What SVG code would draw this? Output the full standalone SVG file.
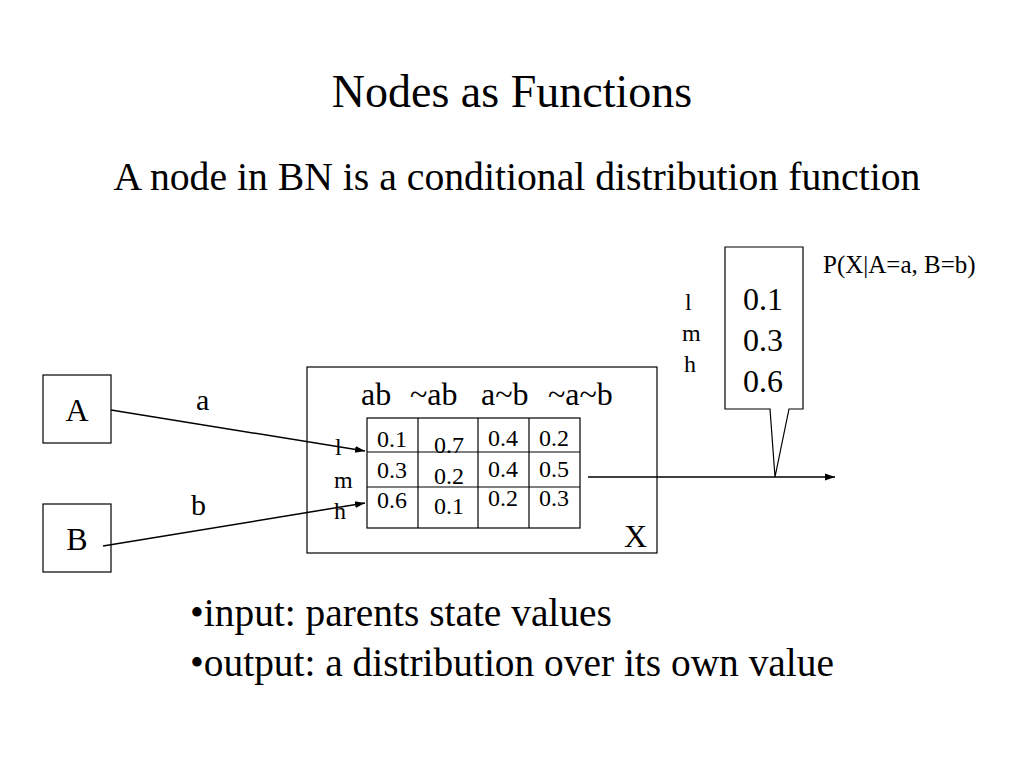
<svg xmlns="http://www.w3.org/2000/svg" width="1024" height="768" viewBox="0 0 1024 768">
<defs>
<style>
text{font-family:"Liberation Serif","Times New Roman",serif;fill:#000}
.box{fill:#fff;stroke:#000;stroke-width:1.2}
.ln{stroke:#000;stroke-width:1.5;fill:none}
.grid{stroke:#000;stroke-width:1.2;fill:none}
.c{font-size:24px}
.h{font-size:32px}
</style>
<marker id="arr" viewBox="0 0 10 10" refX="10" refY="5" markerWidth="10" markerHeight="10" orient="auto" markerUnits="userSpaceOnUse"><path d="M0,1.5 L10,5 L0,8.5 z" fill="#000"/></marker>
</defs>
<rect width="1024" height="768" fill="#fff"/>
<text x="512" y="107" font-size="46" text-anchor="middle">Nodes as Functions</text>
<text x="517" y="190" font-size="39.7" text-anchor="middle">A node in BN is a conditional distribution function</text>

<g id="nodeA"><rect class="box" x="43" y="375" width="68" height="68"/><text x="77" y="421" font-size="32" text-anchor="middle">A</text></g>
<g id="nodeB"><rect class="box" x="43" y="504" width="68" height="68"/><text x="77" y="550" font-size="32" text-anchor="middle">B</text></g>

<g id="nodeX">
<rect class="box" x="307" y="367" width="350" height="186"/>
<text class="h" x="361" y="405">ab</text>
<text class="h" x="410" y="405">~ab</text>
<text class="h" x="481" y="405">a~b</text>
<text class="h" x="548" y="405">~a~b</text>
<rect class="grid" x="367" y="418" width="213" height="110"/>
<line class="grid" x1="418" y1="418" x2="418" y2="528"/>
<line class="grid" x1="478" y1="418" x2="478" y2="528"/>
<line class="grid" x1="529" y1="418" x2="529" y2="528"/>
<line class="grid" x1="367" y1="452" x2="580" y2="452"/>
<line class="grid" x1="367" y1="487" x2="580" y2="487"/>
<text class="c" x="377" y="447">0.1</text>
<text class="c" x="377" y="478">0.3</text>
<text class="c" x="377" y="508">0.6</text>
<text class="c" x="434" y="453">0.7</text>
<text class="c" x="434" y="484">0.2</text>
<text class="c" x="434" y="514">0.1</text>
<text class="c" x="488" y="446">0.4</text>
<text class="c" x="488" y="477">0.4</text>
<text class="c" x="488" y="506">0.2</text>
<text class="c" x="539" y="446">0.2</text>
<text class="c" x="539" y="477">0.5</text>
<text class="c" x="539" y="506">0.3</text>
<text class="c" x="335" y="455">l</text>
<text class="c" x="334" y="488">m</text>
<text class="c" x="334" y="519">h</text>
<text x="624" y="547" font-size="32">X</text>
</g>

<g id="callout">
<path class="box" d="M725,247 H803 V409 H789 L775,477 L770,409 H725 Z"/>
<text x="743" y="310" font-size="32">0.1</text>
<text x="743" y="351" font-size="32">0.3</text>
<text x="743" y="392" font-size="32">0.6</text>
<text class="c" x="685" y="310">l</text>
<text class="c" x="682" y="341">m</text>
<text class="c" x="684" y="372">h</text>
<text x="823" y="273" font-size="25">P(X|A=a, B=b)</text>
</g>

<g id="connectors">
<line class="ln" x1="111" y1="410" x2="365" y2="451" marker-end="url(#arr)"/>
<line class="ln" x1="103" y1="546" x2="365" y2="503" marker-end="url(#arr)"/>
<line class="ln" x1="588" y1="477" x2="835" y2="477" marker-end="url(#arr)"/>
<text x="196" y="410" font-size="30">a</text>
<text x="191" y="515" font-size="30">b</text>
</g>

<text x="190" y="626" font-size="39.4">•input: parents state values</text>
<text x="190" y="676" font-size="39.4">•output: a distribution over its own value</text>
</svg>
